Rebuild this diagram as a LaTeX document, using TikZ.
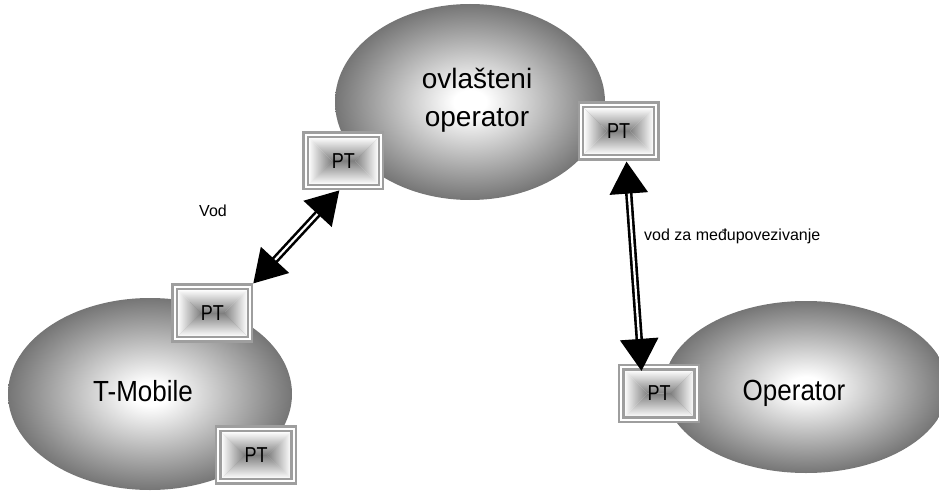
\documentclass[tikz,border=0pt]{standalone}
\usepackage{fontspec}
\setmainfont{Liberation Sans}
\usepackage{graphicx}
\usetikzlibrary{shapes.geometric,arrows.meta}
\pgfdeclareradialshading{ovalshade}{\pgfpoint{0bp}{0bp}}{color(0bp)=(white); color(3bp)=(white); color(25bp)=(black!54); color(50bp)=(black!54)}
\definecolor{framegray}{gray}{0.62}
\definecolor{ptmid}{gray}{0.5}
\newcommand{\ptbox}[3]{%
 \begin{scope}[shift={(#2,#3)}]
  \shade[top color=white,bottom color=ptmid] (-35,-23.5) -- (35,-23.5) -- (11.5,0) -- (-11.5,0) -- cycle;
  \shade[top color=ptmid,bottom color=white] (-35,23.5) -- (35,23.5) -- (11.5,0) -- (-11.5,0) -- cycle;
  \shade[left color=white,right color=ptmid] (-35,-23.5) -- (-35,23.5) -- (-11.5,0) -- cycle;
  \shade[left color=ptmid,right color=white] (35,-23.5) -- (35,23.5) -- (11.5,0) -- cycle;
 \end{scope}
 \node[ptframe] (#1) at (#2,#3) {\scalebox{1}[1.2]{PT}};
}
\begin{document}
\begin{tikzpicture}[x=1pt,y=-1pt,
  oval/.style={ellipse, shade, shading=ovalshade, inner sep=0},
  ptframe/.style={rectangle, draw=framegray, double=white, line width=2.4pt, double distance=2pt, minimum width=75.2pt, minimum height=52.4pt, inner sep=0, outer sep=3.4pt, font=\fontsize{18}{18}\selectfont},
  link/.style={draw=black, double=white, line width=2.6pt, double distance=2.2pt, {Triangle[length=32pt,width=38pt]}-{Triangle[length=32pt,width=38pt]}},
  bigtext/.style={font=\fontsize{26}{26}\selectfont},
  smalltext/.style={font=\fontsize{16}{16}\selectfont, inner sep=0}
]
\useasboundingbox (0,0) rectangle (939,492);
\clip (0,0) rectangle (939,492);
% ovals
\node[oval, minimum width=270pt, minimum height=196pt] (ov) at (470,102) {};
\node[oval, minimum width=284pt, minimum height=192pt] (tm) at (150,394) {};
\node[oval, minimum width=284pt, minimum height=172pt] (op) at (806,387) {};
% oval texts
\node[font=\fontsize{28}{38}\selectfont, align=center] (ovt) at (477,100) {ovlašteni\\operator};
\node[bigtext] (tmt) at (143,391) {\scalebox{1}[1.12]{T-Mobile}};
\node[bigtext] (opt) at (794,393) {\scalebox{1}[1.12]{Operator}};
% PT boxes
\ptbox{B1}{343.3}{160.8}
\ptbox{B2}{618.5}{131}
\ptbox{B3}{212.3}{313}
\ptbox{B4}{256}{455}
\ptbox{B5}{659}{393.5}
% links
\draw[link] ([xshift=-4pt]B1.south) -- (B3.north east);
\draw[link] ([xshift=8pt,yshift=-1pt]B2.south) -- ([xshift=-17.5pt,yshift=-7pt]B5.north);
% labels
\node[smalltext] (vod) at (213,211) {Vod};
\node[smalltext, anchor=west] (vodza) at (644,236) {vod za međupovezivanje};
\end{tikzpicture}
\end{document}
